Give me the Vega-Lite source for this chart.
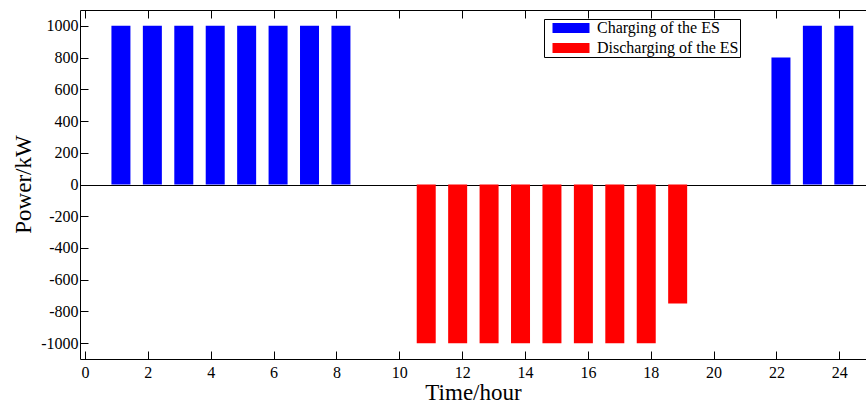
{
  "$schema": "https://vega.github.io/schema/vega-lite/v6.json",
  "width": 786,
  "height": 349,
  "autosize": "none",
  "padding": {"left": 80, "top": 10, "right": 0, "bottom": 44},
  "background": "white",
  "view": {"stroke": null},
  "config": {
    "font": "Liberation Serif",
    "axis": {"labelFont": "Liberation Serif", "titleFont": "Liberation Serif", "labelColor": "black", "titleColor": "black", "domainColor": "black", "tickColor": "black", "titleFontWeight": "normal", "labelFontSize": 16, "titleFontSize": 23, "labelOverlap": false},
    "legend": {"labelFont": "Liberation Serif", "labelColor": "black", "labelFontSize": 16}
  },
  "data": {"values": [
    {"hour": 1, "power": 1000, "series": "Charging of the ES"},
    {"hour": 2, "power": 1000, "series": "Charging of the ES"},
    {"hour": 3, "power": 1000, "series": "Charging of the ES"},
    {"hour": 4, "power": 1000, "series": "Charging of the ES"},
    {"hour": 5, "power": 1000, "series": "Charging of the ES"},
    {"hour": 6, "power": 1000, "series": "Charging of the ES"},
    {"hour": 7, "power": 1000, "series": "Charging of the ES"},
    {"hour": 8, "power": 1000, "series": "Charging of the ES"},
    {"hour": 22, "power": 800, "series": "Charging of the ES"},
    {"hour": 23, "power": 1000, "series": "Charging of the ES"},
    {"hour": 24, "power": 1000, "series": "Charging of the ES"},
    {"hour": 11, "power": -1000, "series": "Discharging of the ES"},
    {"hour": 12, "power": -1000, "series": "Discharging of the ES"},
    {"hour": 13, "power": -1000, "series": "Discharging of the ES"},
    {"hour": 14, "power": -1000, "series": "Discharging of the ES"},
    {"hour": 15, "power": -1000, "series": "Discharging of the ES"},
    {"hour": 16, "power": -1000, "series": "Discharging of the ES"},
    {"hour": 17, "power": -1000, "series": "Discharging of the ES"},
    {"hour": 18, "power": -1000, "series": "Discharging of the ES"},
    {"hour": 19, "power": -750, "series": "Discharging of the ES"}
  ]},
  "encoding": {
    "y": {"field": "power", "type": "quantitative", "scale": {"domain": [-1100, 1100], "nice": false},
          "axis": {"values": [-1000,-800,-600,-400,-200,0,200,400,600,800,1000], "labelOverlap": false,
                   "labelExpr": "replace(format(datum.value, 'd'), '\u2212', '-')",
                   "labelFont": "Liberation Serif", "labelFontSize": 16, "labelColor": "black",
                   "grid": true, "gridColor": {"condition": {"test": "datum.value === 0", "value": "black"}, "value": null}, "gridWidth": 1.2, "gridOpacity": 1,
                   "title": "Power/kW", "titleFont": "Liberation Serif", "titleFontSize": 23, "titleBaseline": "alphabetic", "titleX": -50, "titleY": 174,
                   "tickSize": -8, "labelPadding": 10, "domainColor": "black", "tickColor": "black"}},
    "color": {"field": "series", "type": "nominal",
              "scale": {"domain": ["Charging of the ES", "Discharging of the ES"], "range": ["#0000ff", "#ff0000"]},
              "legend": {"title": null, "orient": "none", "legendX": 464, "legendY": 9, "strokeColor": "black", "fillColor": "white", "padding": 1,
                         "labelFont": "Liberation Serif", "labelFontSize": 16, "labelColor": "black",
                         "symbolType": "M-3.7,-1L3.7,-1L3.7,1L-3.7,1Z", "symbolSize": 100, "symbolStrokeWidth": 0, "symbolOpacity": 1,
                         "symbolOffset": 18, "labelOffset": 18, "rowPadding": 4}}
  },
  "layer": [
    {
      "transform": [{"filter": "datum.series === 'Charging of the ES'"}],
      "mark": {"type": "bar", "size": 19, "xOffset": 4.5},
      "encoding": {
        "x": {"field": "hour", "type": "quantitative", "scale": {"domain": [0, 24.69], "nice": false, "zero": false},
              "axis": {"orient": "bottom", "values": [0,2,4,6,8,10,12,14,16,18,20,22,24], "format": "d", "labelOverlap": false, "grid": false,
                       "labelFont": "Liberation Serif", "labelFontSize": 16, "labelColor": "black",
                       "title": "Time/hour", "titleFont": "Liberation Serif", "titleFontSize": 23, "titleBaseline": "alphabetic", "titleY": 40,
                       "tickSize": -8, "labelPadding": 13, "domain": true, "domainColor": "black", "tickColor": "black"}}
      }
    },
    {
      "transform": [{"filter": "datum.series === 'Discharging of the ES'"}],
      "mark": {"type": "bar", "size": 19, "xOffset": -4.5},
      "encoding": {
        "x": {"field": "hour", "type": "quantitative",
              "axis": {"orient": "top", "values": [0,2,4,6,8,10,12,14,16,18,20,22,24], "title": null, "labels": false, "grid": false, "tickSize": -8, "domain": true, "domainColor": "black", "tickColor": "black"}}
      }
    }
  ],
  "resolve": {"axis": {"x": "independent"}}
}
